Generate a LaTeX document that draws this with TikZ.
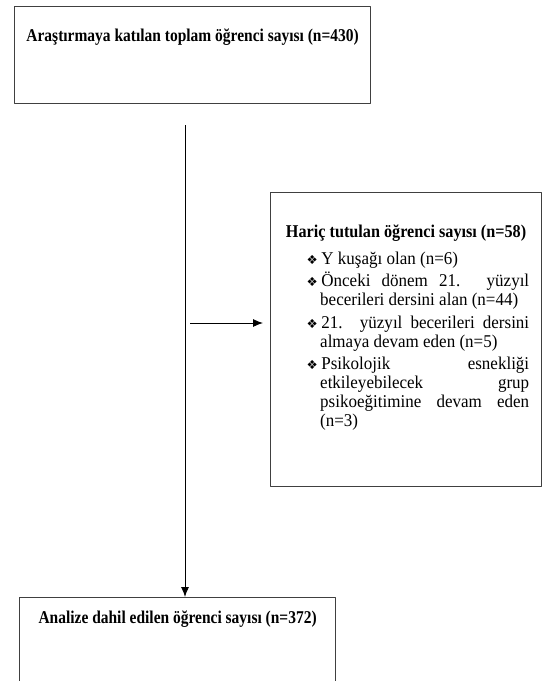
\documentclass[tikz,border=0pt]{standalone}
\usepackage{fontspec}
\setmainfont{Liberation Serif}[FakeStretch=0.945]
\newfontfamily\baslikfont{Liberation Serif}[FakeStretch=0.86]
\newfontfamily\haricfont{Liberation Serif}[FakeStretch=0.9]
\newfontfamily\isaretfont{DejaVu Sans}
\usetikzlibrary{positioning,arrows.meta}
\tikzset{
  kutu/.style={draw=black!75,line width=1.2pt,rectangle,inner sep=0pt},
  baslik/.style={font=\baslikfont\fontsize{18}{20}\selectfont\bfseries,inner sep=0pt},
  liste/.style={font=\fontsize{18}{19}\selectfont,inner sep=0pt,text width=222pt,align=justify},
  ok/.style={->,line width=0.9pt},
}
\newcommand{\madde}{{\isaretfont\fontsize{12.5}{12.5}\selectfont ❖}}
\newenvironment{maddeler}{\begin{list}{\madde}{\setlength\leftmargin{13pt}\setlength\labelwidth{10pt}\setlength\labelsep{3.5pt}\setlength\itemsep{3.5pt}\setlength\parsep{0pt}\setlength\topsep{0pt}\setlength\partopsep{0pt}}}{\end{list}}

\begin{document}
\begin{tikzpicture}[x=1pt,y=-1pt,>={Latex[length=10pt,width=8pt]},line join=round]
	\useasboundingbox (0,0) rectangle (547,681);
	% kutular
	\node[kutu,anchor=north west,minimum width=356pt,minimum height=97pt] (toplam) at (14,6) {};
	\node[baslik,below=23pt of toplam.north] (toplamyazi) {Araştırmaya katılan toplam öğrenci sayısı (n=430)};
	\node[kutu,anchor=north west,minimum width=271pt,minimum height=294pt] (haric) at (270,192) {};
	\node[baslik,font=\haricfont\fontsize{18}{20}\selectfont\bfseries,below=33pt of haric.north] (hariciyazi) {Hariç tutulan öğrenci sayısı (n=58)};
	\node[liste,anchor=north west] (haricliste) at (307,245) {%
		\hyphenpenalty=10000\exhyphenpenalty=10000
		\begin{maddeler}
			\item Y kuşağı olan (n=6)
			\item Önceki dönem 21. yüzyıl\linebreak becerileri dersini alan (n=44)
			\item 21. yüzyıl becerileri dersini\linebreak almaya devam eden (n=5)
			\item Psikolojik esnekliği\linebreak etkileyebilecek grup\linebreak psikoeğitimine devam eden\linebreak (n=3)
		\end{maddeler}};
	\node[kutu,anchor=north west,minimum width=316pt,minimum height=110pt] (analiz) at (19,597) {};
	\node[baslik,below=14pt of analiz.north] (analizyazi) {Analize dahil edilen öğrenci sayısı (n=372)};
	% oklar
	\coordinate (dbas) at (185,125);
	\coordinate (ybas) at (190,323);
	\draw[ok] (dbas) -- (analiz.north -| dbas);
	\draw[ok,shorten >=7pt] (ybas) -- (haric.west |- ybas);
\end{tikzpicture}
\end{document}
